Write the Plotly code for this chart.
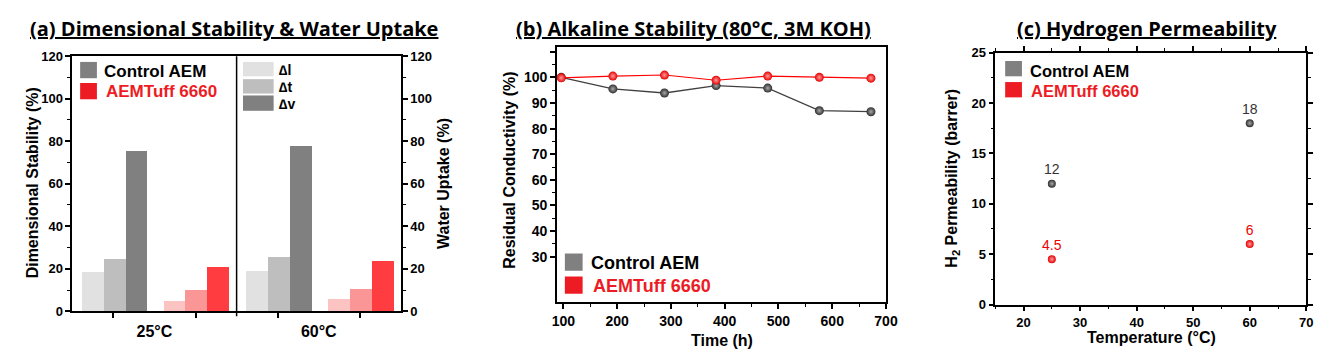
import plotly.graph_objects as go

W, H = 1331, 356

# ---------------- data ----------------
# (a) Dimensional stability & water uptake
temps_a = ["25°C", "60°C"]
dl_control = [18.5, 18.9]
dt_control = [24.5, 25.5]
dv_control = [75.3, 77.5]
dl_tuff = [4.8, 5.8]
dt_tuff = [9.8, 10.5]
dv_tuff = [20.7, 23.5]
ticks_a = [0, 20, 40, 60, 80, 100, 120]

# (b) Alkaline stability
time_h = [96, 192, 288, 384, 480, 576, 672]
cond_control = [100.0, 95.5, 93.9, 96.8, 95.8, 87.0, 86.6]
cond_tuff = [99.8, 100.5, 100.9, 98.9, 100.5, 100.0, 99.7]
ticks_bx = [100, 200, 300, 400, 500, 600, 700]
ticks_by = [30, 40, 50, 60, 70, 80, 90, 100]

# (c) Hydrogen permeability
temp_c = [25, 60]
perm_control = [12, 18]
perm_tuff = [4.5, 6]
perm_control_labels = ["12", "18"]
perm_tuff_labels = ["4.5", "6"]
ticks_cx = [20, 30, 40, 50, 60, 70]
ticks_cy = [0, 5, 10, 15, 20, 25]

# ---------------- helpers ----------------
def px(x):
    return x / W

def py(y):
    return 1 - y / H

def btxt(vals):
    return ["<b>%s</b>" % v for v in vals]

FONT = "Liberation Sans, Arial, sans-serif"
TFONT = "Open Sans, sans-serif"
GRAY = "#808080"
RED_LEG = "#ED1C24"

fig = go.Figure()

# ---------------- panel (a) bars ----------------
bar_specs = [
    (dl_control, "#E1E1E1", -0.44),
    (dt_control, "#BEBEBE", -0.307),
    (dv_control, "#808080", -0.174),
    (dl_tuff, "#FCC3C3", 0.057),
    (dt_tuff, "#FA9696", 0.19),
    (dv_tuff, "#FF3D40", 0.323),
]
for vals, col, off in bar_specs:
    fig.add_trace(go.Bar(
        x=list(range(len(temps_a))), y=vals, offset=off, width=0.133,
        marker=dict(color=col, line=dict(width=0)),
        xaxis="x", yaxis="y", showlegend=False,
    ))
fig.add_trace(go.Scatter(x=[0], y=[0], mode="markers", marker=dict(opacity=0),
                         xaxis="x", yaxis="y2", showlegend=False, hoverinfo="skip"))

# ---------------- panel (b) lines ----------------
fig.add_trace(go.Scatter(
    x=time_h, y=cond_control, mode="lines+markers",
    line=dict(color="#404040", width=1.3),
    marker=dict(size=9, color="#2E2E2E", gradient=dict(type="radial", color="#A8A8A8"),
                line=dict(width=0)),
    xaxis="x2", yaxis="y3", showlegend=False,
))
fig.add_trace(go.Scatter(
    x=time_h, y=cond_tuff, mode="lines+markers",
    line=dict(color="#FF0000", width=1.1),
    marker=dict(size=9, color="#E60000", gradient=dict(type="radial", color="#FF9A9A"),
                line=dict(width=0)),
    xaxis="x2", yaxis="y3", showlegend=False,
))

# ---------------- panel (c) scatter ----------------
fig.add_trace(go.Scatter(
    x=temp_c, y=perm_control, mode="markers+text", text=perm_control_labels,
    textposition="top center", textfont=dict(family=FONT, size=14, color="#333333"),
    marker=dict(size=8, color="#2E2E2E", gradient=dict(type="radial", color="#A8A8A8"),
                line=dict(width=0)),
    xaxis="x3", yaxis="y4", showlegend=False,
))
fig.add_trace(go.Scatter(
    x=temp_c, y=perm_tuff, mode="markers+text", text=perm_tuff_labels,
    textposition="top center", textfont=dict(family=FONT, size=14, color="#EE0000"),
    marker=dict(size=8, color="#E60000", gradient=dict(type="radial", color="#FF9A9A"),
                line=dict(width=0)),
    xaxis="x3", yaxis="y4", showlegend=False,
))

tickfont13 = dict(family=FONT, size=13, color="black")
tickfont14 = dict(family=FONT, size=14, color="black")
axline = dict(showline=True, linecolor="black", linewidth=1.5, showgrid=False, zeroline=False)
major = dict(ticks="outside", ticklen=5, tickwidth=1.5, tickcolor="black")

def minor(**kw):
    d = dict(ticks="outside", ticklen=3, tickcolor="black", tickwidth=1)
    d.update(kw)
    return d

fig.update_layout(
    width=W, height=H, autosize=False,
    margin=dict(l=0, r=0, t=0, b=0),
    paper_bgcolor="white", plot_bgcolor="white",
    bargap=0,
    # panel a
    xaxis=dict(domain=[px(60), px(393)], range=[-0.5, 1.5], tickvals=[0, 1], ticktext=btxt(temps_a),
               ticks="", tickfont=dict(family=FONT, size=16, color="black"),
               ticklabelstandoff=5, mirror=True,
               minor=minor(tickvals=[-0.25, 0.25, 0.75, 1.25], ticklen=5, tickwidth=1.5),
               anchor="y", **axline),
    yaxis=dict(domain=[py(309.3), py(43)], range=[0, 120], tickvals=ticks_a, ticktext=btxt(ticks_a),
               tickfont=tickfont13, minor=minor(dtick=10), anchor="x", **major, **axline),
    yaxis2=dict(domain=[py(309.3), py(43)], range=[0, 120], tickvals=ticks_a, ticktext=btxt(ticks_a),
                overlaying="y", side="right", anchor="x",
                tickfont=tickfont13, minor=minor(dtick=10), **major, **axline),
    # panel b
    xaxis2=dict(domain=[px(551), px(884.3)], range=[88, 700], tickvals=ticks_bx, ticktext=btxt(ticks_bx),
                tickfont=tickfont14,
                minor=minor(tickvals=[150, 250, 350, 450, 550, 650]),
                mirror=True, anchor="y3", **major, **axline),
    yaxis3=dict(domain=[py(300), py(33)], range=[12.2, 112],
                tickvals=ticks_by + [110], ticktext=btxt(ticks_by) + [" "],
                tickfont=tickfont14,
                minor=minor(tickvals=[35, 45, 55, 65, 75, 85, 95, 105]),
                mirror=True, anchor="x2", **major, **axline),
    # panel c
    xaxis3=dict(domain=[px(995), px(1310)], range=[15, 70], tickvals=ticks_cx, ticktext=btxt(ticks_cx),
                tickfont=tickfont13, minor=minor(dtick=5, tick0=15),
                mirror="allticks", anchor="y4", **major, **axline),
    yaxis4=dict(domain=[py(302.3), py(39.3)], range=[0, 25], tickvals=ticks_cy, ticktext=btxt(ticks_cy),
                tickfont=tickfont13, minor=minor(dtick=2.5),
                mirror="allticks", anchor="x3", **major, **axline),
)

# divider in panel (a)
fig.add_shape(type="line", xref="x", yref="y domain", x0=0.5, x1=0.5, y0=-0.02, y1=1,
              line=dict(color="black", width=1.5))

# ---------------- legends (shapes + text) ----------------
def square(x0, y0, x1, y1, col):
    fig.add_shape(type="rect", xref="paper", yref="paper", x0=px(x0), x1=px(x1),
                  y0=py(y1), y1=py(y0), fillcolor=col, line=dict(width=0), layer="above")

def text(x, y, s, size, color="black", bold=True, xanchor="left", angle=0, family=FONT):
    fig.add_annotation(x=px(x), y=py(y), xref="paper", yref="paper",
                       text=("<b>%s</b>" % s) if bold else s, showarrow=False,
                       xanchor=xanchor, yanchor="middle", textangle=angle,
                       font=dict(family=family, size=size, color=color))

# panel a
square(68, 49, 85, 66, GRAY)
square(68, 71, 85, 88, RED_LEG)
text(90, 59, "Control AEM", 17)
text(92, 80, "AEMTuff 6660", 17, RED_LEG)
square(233, 49, 264, 64, "#E1E1E1")
square(233, 67, 264, 82, "#BEBEBE")
square(233, 84, 264, 100, "#808080")
text(267, 57, "∆l", 14)
text(267, 75, "∆t", 14)
text(267, 93, "∆v", 14)

# panel b
square(559, 249, 577, 267, GRAY)
square(559, 273, 577, 291, RED_LEG)
text(583, 259, "Control AEM", 18)
text(585, 283, "AEMTuff 6660", 18, RED_LEG)

# panel c
square(1005, 48, 1022, 64, GRAY)
square(1005, 70, 1022, 86, RED_LEG)
text(1028, 58, "Control AEM", 16.5)
text(1029, 79, "AEMTuff 6660", 16.5, RED_LEG)

# ---------------- titles ----------------
text(224, 14, "<u>(a) Dimensional Stability &amp; Water Uptake</u>", 20, xanchor="center", family=TFONT)
text(689, 14, "<u>(b) Alkaline Stability (80°C, 3M KOH)</u>", 20, xanchor="center", family=TFONT)
text(1149, 14, "<u>(c) Hydrogen Permeability</u>", 20, xanchor="center", family=TFONT)

# ---------------- axis titles ----------------
text(20, 175, "Dimensional Stability (%)", 16, xanchor="center", angle=-90)
text(436, 176, "Water Uptake (%)", 16, xanchor="center", angle=-90)
text(503, 162, "Residual Conductivity (%)", 16, xanchor="center", angle=-90)
text(718, 340, "Time (h)", 16, xanchor="center")
text(952, 170, "H<sub>2</sub> Permeability (barrer)", 16, xanchor="center", angle=-90)
text(1153, 337, "Temperature (°C)", 16, xanchor="center")

fig.write_html("out.html")
